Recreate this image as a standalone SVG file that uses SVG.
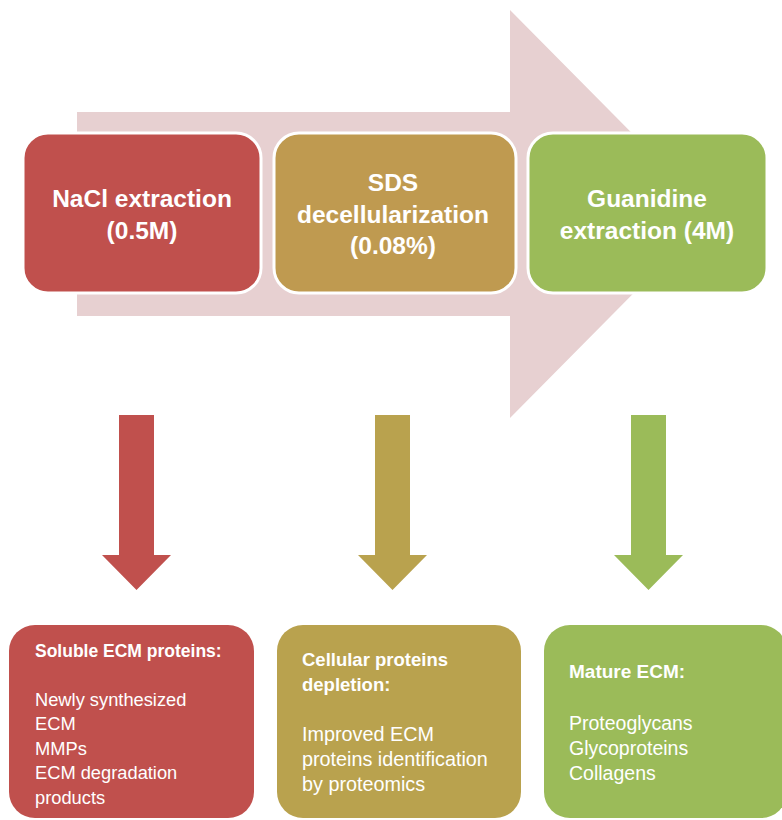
<svg xmlns="http://www.w3.org/2000/svg" width="782" height="820" viewBox="0 0 782 820">
<style>
text{font-family:"Liberation Sans",Arial,sans-serif;fill:#ffffff}
.h{font-weight:bold;font-size:24.5px;text-anchor:middle}
.top{stroke:#ffffff;stroke-width:3}
.red{fill:#c0504d}
.gold{fill:#bf9a50}
.gold2{fill:#b9a24e}
.green{fill:#9bbb59}
.b{font-weight:bold}
</style>
<rect width="782" height="820" fill="#ffffff"/>
<g id="flow-arrow">
<polygon points="77,112 510,112 510,10 712,214 510,418 510,316 77,316" fill="#e7d0d1"/>
</g>
<g id="nacl">
<rect class="top red" x="23" y="133" width="238" height="160" rx="25"/>
<text class="h" x="142" y="207">NaCl extraction</text>
<text class="h" x="142" y="239">(0.5M)</text>
</g>
<g id="sds">
<rect class="top gold" x="274" y="133" width="242" height="160" rx="25"/>
<text class="h" x="393" y="191">SDS</text>
<text class="h" x="393" y="223">decellularization</text>
<text class="h" x="393" y="254">(0.08%)</text>
</g>
<g id="guanidine">
<rect class="top green" x="528" y="133" width="239" height="160" rx="25"/>
<text class="h" x="647" y="207">Guanidine</text>
<text class="h" x="647" y="239">extraction (4M)</text>
</g>
<g id="connectors">
<polygon class="red" points="119,415 154,415 154,555 171,555 136.5,590 102,555 119,555"/>
<polygon class="gold2" points="375,415 410,415 410,555 427,555 392.5,590 358,555 375,555"/>
<polygon class="green" points="631,415 666,415 666,555 683,555 648.5,590 614,555 631,555"/>
</g>
<g id="soluble">
<rect class="red" x="9" y="625" width="245" height="193" rx="26"/>
<text class="b" x="35" y="657" font-size="17.5">Soluble ECM proteins:</text>
<text x="35" y="706" font-size="18.3">Newly synthesized</text>
<text x="35" y="730" font-size="18.3">ECM</text>
<text x="35" y="755" font-size="18.3">MMPs</text>
<text x="35" y="779" font-size="18.3">ECM degradation</text>
<text x="35" y="804" font-size="18.3">products</text>
</g>
<g id="cellular">
<rect class="gold2" x="277" y="625" width="244" height="193" rx="26"/>
<text class="b" x="302" y="666" font-size="18.5">Cellular proteins</text>
<text class="b" x="302" y="691" font-size="18.5">depletion:</text>
<text x="302" y="741" font-size="19.8">Improved ECM</text>
<text x="302" y="766" font-size="19.8">proteins identification</text>
<text x="302" y="791" font-size="19.8">by proteomics</text>
</g>
<g id="mature">
<rect class="green" x="544" y="625" width="243" height="193" rx="26"/>
<text class="b" x="569" y="678" font-size="19">Mature ECM:</text>
<text x="569" y="730" font-size="19.5">Proteoglycans</text>
<text x="569" y="755" font-size="19.5">Glycoproteins</text>
<text x="569" y="780" font-size="19.5">Collagens</text>
</g>
</svg>
